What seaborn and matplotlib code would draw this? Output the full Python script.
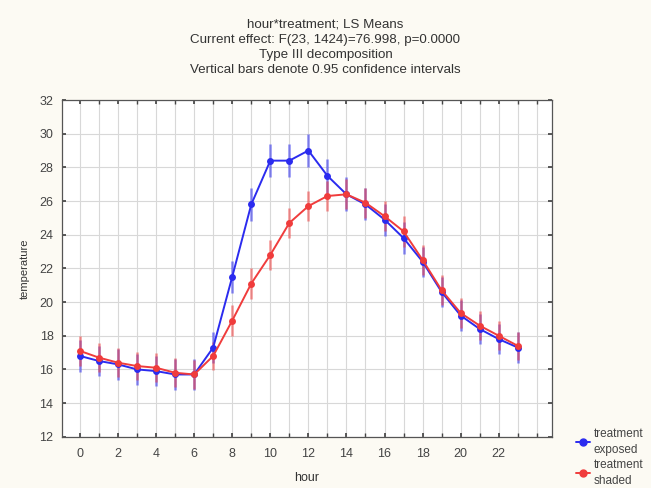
import numpy as np
import pandas as pd
import matplotlib
matplotlib.use("Agg")
import matplotlib.pyplot as plt
import seaborn as sns
from matplotlib.lines import Line2D

sns.set_theme(style="whitegrid")
plt.rcParams['font.family'] = ['Liberation Sans', 'DejaVu Sans']

# LS means per hour
hours = list(range(24))
exposed = [16.8, 16.5, 16.3, 16.0, 15.9, 15.7, 15.7, 17.3, 21.5, 25.8, 28.4, 28.4,
           29.0, 27.5, 26.4, 25.8, 24.9, 23.8, 22.4, 20.6, 19.2, 18.4, 17.8, 17.3]
shaded = [17.1, 16.7, 16.4, 16.2, 16.1, 15.8, 15.7, 16.8, 18.9, 21.1, 22.8, 24.7,
          25.7, 26.3, 26.4, 25.9, 25.1, 24.2, 22.5, 20.7, 19.35, 18.6, 18.0, 17.4]
# half-width of 0.95 confidence intervals
exposed_ci = [0.95, 0.9, 0.9, 0.9, 0.9, 0.9, 0.9, 0.9, 0.95, 1.0, 1.0, 1.0,
              1.0, 1.0, 1.0, 0.95, 0.95, 0.95, 0.9, 0.9, 0.9, 0.9, 0.9, 0.9]
shaded_ci = [0.9, 0.85, 0.85, 0.85, 0.85, 0.85, 0.85, 0.85, 0.9, 0.9, 0.9, 0.9,
             0.9, 0.9, 0.9, 0.9, 0.9, 0.9, 0.9, 0.9, 0.9, 0.85, 0.85, 0.85]
groups = ['exposed', 'shaded']
colors = {'exposed': '#2b2bef', 'shaded': '#f03c3c'}

df = pd.DataFrame({
    'hour': hours * 2,
    'temperature': exposed + shaded,
    'ci': exposed_ci + shaded_ci,
    'treatment': ['exposed'] * 24 + ['shaded'] * 24,
})

fig = plt.figure(figsize=(6.51, 4.88), dpi=100, facecolor='#fcfaf3')
ax = fig.add_axes([0.095, 0.105, 0.753, 0.69])
ax.set_facecolor('white')

sns.lineplot(data=df, x='hour', y='temperature', hue='treatment', palette=colors,
             marker='o', markersize=5, markeredgewidth=0, linewidth=1.4,
             legend=False, ax=ax, zorder=3)
for g in groups:
    sub = df[df['treatment'] == g]
    ax.errorbar(sub['hour'], sub['temperature'], yerr=sub['ci'], fmt='none',
                ecolor=colors[g], elinewidth=1.8, alpha=0.55, capsize=0, zorder=2)

ax.set_xlim(-0.95, 24.8)
ax.set_ylim(12, 32)
ax.set_xticks(range(0, 23, 2))
ax.set_xticks(range(0, 25), minor=True)
ax.set_yticks(range(12, 33, 2))
ax.grid(which='both', axis='x', color='#d8d8d8', linewidth=0.8)
ax.grid(which='major', axis='y', color='#d8d8d8', linewidth=0.8)
ax.tick_params(axis='both', labelsize=9, colors='#444444', direction='in',
               length=3, which='both', top=True, right=True, bottom=True, left=True)
ax.tick_params(axis='x', which='major', pad=8)
ax.tick_params(axis='y', which='major', pad=6)
for s in ax.spines.values():
    s.set_color('#555555')
    s.set_linewidth(0.9)

ax.set_xlabel('hour', fontsize=9, color='#333333', labelpad=9)
ax.set_ylabel('temperature', fontsize=8, color='#333333', labelpad=7)

fig.text(0.5, 0.962,
         "hour*treatment; LS Means\n"
         "Current effect: F(23, 1424)=76.998, p=0.0000\n"
         "Type III decomposition\n"
         "Vertical bars denote 0.95 confidence intervals",
         ha='center', va='top', fontsize=9.6, linespacing=1.35, color='#333333')

handles = [Line2D([0], [0], color=colors[g], marker='o', markersize=5, lw=1.4)
           for g in groups]
leg = fig.legend(handles, ['treatment\nexposed', 'treatment\nshaded'],
                 loc='upper left', bbox_to_anchor=(0.868, 0.145), frameon=False,
                 fontsize=8.5, handlelength=1.2, handletextpad=0.3,
                 labelspacing=0.25, labelcolor='#444444')
for t in leg.get_texts():
    t.set_linespacing(1.45)

fig.savefig('out.png', dpi=100, facecolor=fig.get_facecolor())
